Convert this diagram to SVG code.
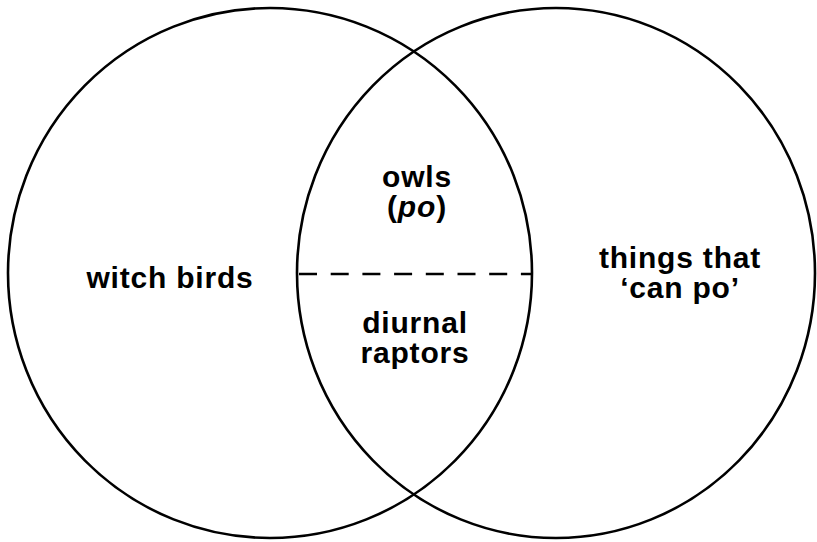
<svg xmlns="http://www.w3.org/2000/svg" width="817" height="542" viewBox="0 0 817 542">
<style>
.c{fill:none;stroke:#000;stroke-width:2.6}
.t{font-family:"Liberation Sans",Arial,Helvetica,sans-serif;font-weight:bold;font-size:30px;letter-spacing:0.8px;fill:#000;text-anchor:middle}
.d{stroke:#000;stroke-width:2.6;stroke-dasharray:18 13.7}
</style>
<rect width="817" height="542" fill="#fff"/>
<g id="witch-birds">
<ellipse class="c" cx="270" cy="273" rx="262" ry="265"/>
<text class="t" x="170" y="288">witch birds</text>
</g>
<g id="can-po">
<ellipse class="c" cx="556" cy="273" rx="259" ry="265"/>
<text class="t" x="680" y="268">things that</text>
<text class="t" x="680" y="298">‘can po’</text>
</g>
<g id="owls">
<text class="t" x="417" y="187">owls</text>
<text class="t" x="417" y="217">(<tspan font-style="italic">po</tspan>)</text>
</g>
<g id="diurnal-raptors">
<text class="t" x="415" y="333">diurnal</text>
<text class="t" x="415" y="363">raptors</text>
</g>
<g id="connectors">
<line class="d" x1="299" y1="274" x2="532" y2="274"/>
</g>
</svg>
